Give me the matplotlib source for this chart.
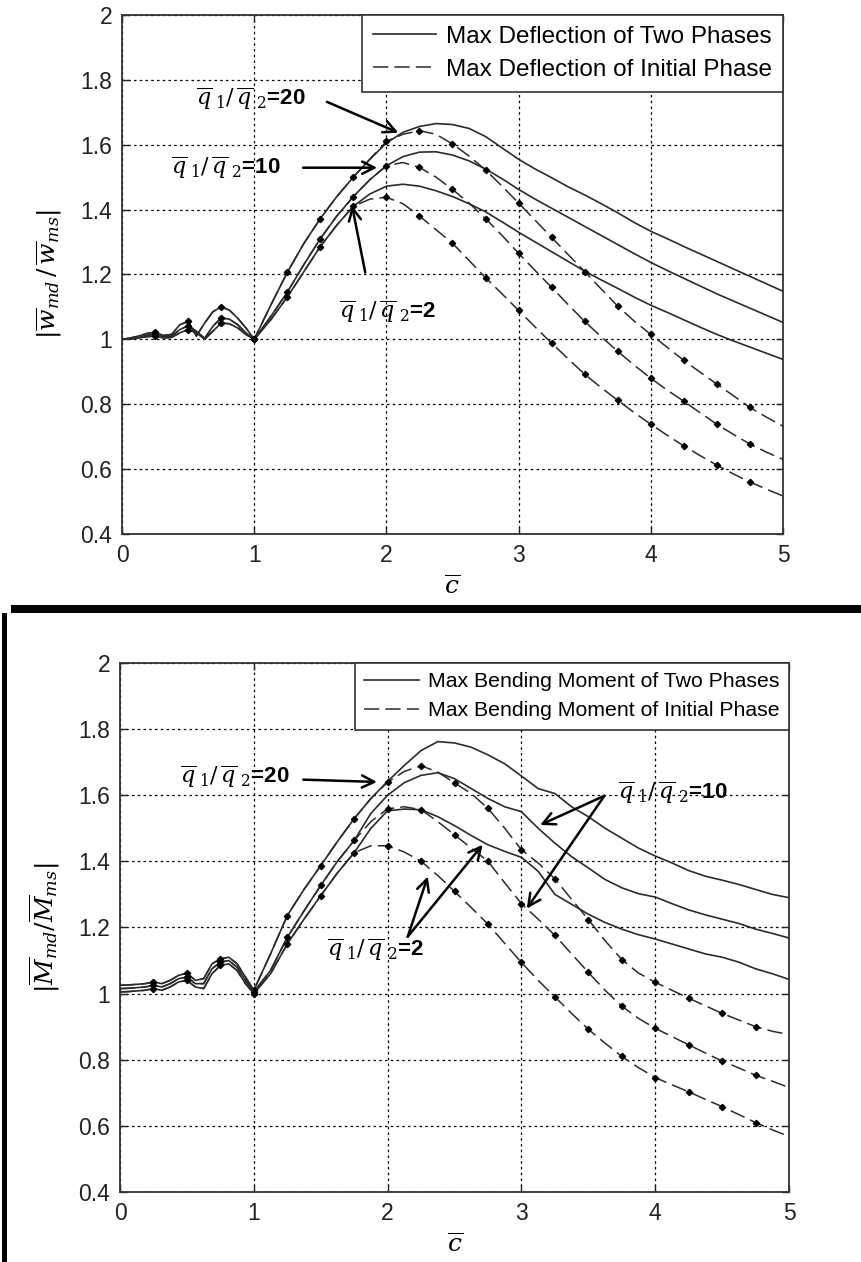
import numpy as np
import matplotlib
matplotlib.use("Agg")
import matplotlib.pyplot as plt
from matplotlib.patches import Rectangle

plt.rcParams["font.family"] = ["Liberation Sans", "DejaVu Sans"]
plt.rcParams["mathtext.fontset"] = "dejavuserif"

# c-bar grid: fine steps over the oscillating part, then 0.125 steps
C_FINE = np.arange(0.0, 1.0001, 0.0625)
C_COARSE = np.arange(1.125, 5.0001, 0.125)
C_BAR = np.concatenate([C_FINE, C_COARSE])

# ---- top panel: |w_md / w_ms| ----
W_OSC_20 = [1.0, 1.004, 1.01, 1.018, 1.022, 1.012, 1.015, 1.045, 1.055, 1.01, 1.05,
            1.085, 1.10, 1.09, 1.065, 1.035, 1.0]
W_OSC_10 = [1.0, 1.002, 1.006, 1.012, 1.016, 1.008, 1.01, 1.03, 1.042, 1.025, 1.003,
            1.04, 1.066, 1.062, 1.045, 1.02, 1.0]
W_OSC_2 = [1.0, 1.001, 1.004, 1.008, 1.01, 1.004, 1.006, 1.02, 1.03, 1.02, 1.0,
           1.025, 1.05, 1.048, 1.035, 1.015, 1.0]

W_TWO_20 = W_OSC_20 + [1.105, 1.206, 1.295, 1.372, 1.44, 1.50, 1.555, 1.605, 1.638, 1.656,
                       1.665, 1.662, 1.65, 1.625, 1.59, 1.555, 1.525, 1.498, 1.47, 1.445,
                       1.418, 1.39, 1.36, 1.333, 1.31, 1.286, 1.263, 1.24, 1.217, 1.194,
                       1.171, 1.148]
W_TWO_10 = W_OSC_10 + [1.07, 1.145, 1.23, 1.31, 1.38, 1.44, 1.492, 1.535, 1.563, 1.577,
                       1.578, 1.568, 1.55, 1.525, 1.495, 1.462, 1.432, 1.404, 1.376, 1.348,
                       1.32, 1.292, 1.264, 1.237, 1.212, 1.188, 1.164, 1.14, 1.118, 1.096,
                       1.074, 1.052]
W_TWO_2 = W_OSC_2 + [1.06, 1.13, 1.208, 1.286, 1.352, 1.41, 1.448, 1.472, 1.478, 1.472,
                     1.458, 1.44, 1.418, 1.393, 1.362, 1.33, 1.30, 1.27, 1.24, 1.21,
                     1.183, 1.157, 1.13, 1.105, 1.083, 1.06, 1.037, 1.015, 0.995, 0.976,
                     0.957, 0.938]

W_INIT_20 = W_OSC_20 + [1.105, 1.206, 1.295, 1.372, 1.44, 1.50, 1.555, 1.61, 1.632, 1.643,
                        1.632, 1.602, 1.565, 1.522, 1.472, 1.42, 1.367, 1.314, 1.261, 1.209,
                        1.155, 1.102, 1.056, 1.015, 0.975, 0.935, 0.898, 0.862, 0.826, 0.79,
                        0.76, 0.732]
W_INIT_10 = W_OSC_10 + [1.07, 1.145, 1.23, 1.31, 1.38, 1.44, 1.492, 1.535, 1.545, 1.53,
                        1.50, 1.462, 1.42, 1.372, 1.32, 1.265, 1.212, 1.16, 1.107, 1.055,
                        1.008, 0.963, 0.92, 0.88, 0.843, 0.809, 0.773, 0.738, 0.707, 0.677,
                        0.652, 0.63]
W_INIT_2 = W_OSC_2 + [1.06, 1.13, 1.208, 1.286, 1.352, 1.41, 1.432, 1.438, 1.418, 1.38,
                      1.338, 1.296, 1.243, 1.19, 1.14, 1.089, 1.038, 0.988, 0.94, 0.892,
                      0.851, 0.812, 0.774, 0.738, 0.704, 0.671, 0.641, 0.612, 0.585, 0.56,
                      0.538, 0.517]

# ---- bottom panel: |M_md / M_ms| ----
M_OSC_20 = [1.025, 1.026, 1.028, 1.03, 1.035, 1.03, 1.04, 1.055, 1.062, 1.04, 1.045,
            1.09, 1.105, 1.11, 1.09, 1.05, 1.01]
M_OSC_10 = [1.015, 1.016, 1.018, 1.02, 1.025, 1.02, 1.03, 1.045, 1.05, 1.03, 1.03,
            1.075, 1.095, 1.10, 1.08, 1.04, 1.005]
M_OSC_2 = [1.005, 1.006, 1.008, 1.01, 1.015, 1.01, 1.02, 1.035, 1.04, 1.02, 1.015,
           1.06, 1.085, 1.09, 1.07, 1.03, 1.0]

M_TWO_20 = M_OSC_20 + [1.12, 1.236, 1.315, 1.387, 1.46, 1.529, 1.59, 1.642, 1.69, 1.735,
                       1.762, 1.758, 1.745, 1.722, 1.695, 1.658, 1.62, 1.605, 1.565, 1.535,
                       1.50, 1.47, 1.44, 1.416, 1.395, 1.372, 1.355, 1.343, 1.33, 1.315,
                       1.30, 1.29]
M_TWO_10 = M_OSC_10 + [1.07, 1.17, 1.25, 1.327, 1.40, 1.463, 1.545, 1.60, 1.638, 1.66,
                       1.668, 1.65, 1.62, 1.59, 1.565, 1.55, 1.50, 1.455, 1.414, 1.38,
                       1.345, 1.32, 1.302, 1.292, 1.272, 1.253, 1.238, 1.225, 1.212, 1.195,
                       1.182, 1.168]
M_TWO_2 = M_OSC_2 + [1.06, 1.15, 1.225, 1.296, 1.365, 1.426, 1.50, 1.553, 1.558, 1.556,
                     1.535, 1.508, 1.478, 1.45, 1.43, 1.412, 1.37, 1.30, 1.27, 1.24,
                     1.215, 1.195, 1.178, 1.165, 1.15, 1.135, 1.12, 1.11, 1.095, 1.075,
                     1.06, 1.043]

M_INIT_20 = M_OSC_20 + [1.12, 1.236, 1.315, 1.387, 1.46, 1.529, 1.59, 1.639, 1.672, 1.689,
                        1.67, 1.637, 1.605, 1.56, 1.50, 1.435, 1.395, 1.347, 1.285, 1.224,
                        1.16, 1.103, 1.062, 1.034, 1.01, 0.986, 0.963, 0.94, 0.92, 0.90,
                        0.886, 0.876]
M_INIT_10 = M_OSC_10 + [1.07, 1.17, 1.25, 1.327, 1.40, 1.463, 1.52, 1.559, 1.565, 1.556,
                        1.52, 1.48, 1.44, 1.40, 1.335, 1.272, 1.225, 1.176, 1.12, 1.064,
                        1.01, 0.962, 0.925, 0.895, 0.87, 0.845, 0.82, 0.796, 0.775, 0.753,
                        0.735, 0.716]
M_INIT_2 = M_OSC_2 + [1.06, 1.15, 1.225, 1.296, 1.365, 1.426, 1.447, 1.447, 1.428, 1.40,
                      1.357, 1.309, 1.26, 1.21, 1.152, 1.094, 1.04, 0.99, 0.94, 0.892,
                      0.85, 0.81, 0.776, 0.746, 0.724, 0.703, 0.68, 0.658, 0.634, 0.61,
                      0.588, 0.568]

RATIO_LABEL = r"$\overline{q}_{\ 1}/\,\overline{q}_{\ 2}$=%s"

LINE_COLOR = "#2b2b2b"
GRID_DASH = (0, (2.0, 2.6))


def style_axes(ax):
    ax.set_xlim(0, 5)
    ax.set_ylim(0.4, 2.0)
    ax.set_xticks([0, 1, 2, 3, 4, 5])
    ax.set_yticks([0.4, 0.6, 0.8, 1.0, 1.2, 1.4, 1.6, 1.8, 2.0])
    ax.set_yticklabels(["0.4", "0.6", "0.8", "1", "1.2", "1.4", "1.6", "1.8", "2"])
    ax.grid(True, color="k", linestyle=GRID_DASH, lw=0.9)
    ax.tick_params(direction="in", length=5, width=1.0, top=True, right=True,
                   labelsize=16.5, pad=7, colors="#222222")
    for sp in ax.spines.values():
        sp.set_color("#333333")
        sp.set_linewidth(1.3)


def draw_panel(ax, two_series, init_series, legend_two, legend_init, legend_size):
    marks = [i for i, c in enumerate(C_BAR) if 0 < c < 5 and abs(c * 4 - round(c * 4)) < 1e-9]
    for k, y in enumerate(two_series):
        ax.plot(C_BAR, y, color=LINE_COLOR, lw=1.2, zorder=3,
                label=legend_two if k == 0 else None)
    for k, y in enumerate(init_series):
        ax.plot(C_BAR, y, color=LINE_COLOR, lw=1.1, linestyle=(0, (10, 4)), zorder=4,
                marker="D", ms=3.2, markevery=marks, mfc="k", mec="k",
                label=legend_init if k == 0 else None)
    style_axes(ax)
    leg = ax.legend(loc="upper right", bbox_to_anchor=(1.0, 1.0), fontsize=legend_size,
                    frameon=True, fancybox=False, framealpha=1, edgecolor="#333333",
                    borderaxespad=0, handlelength=2.6, handletextpad=0.4,
                    borderpad=0.45, labelspacing=0.45)
    leg.get_frame().set_linewidth(1.2)
    for h in leg.legend_handles:
        h.set_marker("")
    ax.set_xlabel(r"$\overline{c}$", fontsize=18, labelpad=6)


def annotate(ax, ratio, text_xy, targets, tail):
    ax.text(text_xy[0], text_xy[1], RATIO_LABEL % ratio, fontsize=16, fontweight="bold",
            va="center", ha="left", zorder=6)
    for tx, ty in targets:
        ax.annotate("", xy=(tx, ty), xytext=tail,
                    arrowprops=dict(arrowstyle="->", lw=1.8, color="k", mutation_scale=22,
                                    shrinkA=0, shrinkB=0), zorder=6)


fig = plt.figure(figsize=(8.61, 12.62), dpi=100)
ax_w = fig.add_axes([0.1417, 0.5769, 0.7677, 0.4113])
ax_m = fig.add_axes([0.1394, 0.0555, 0.7770, 0.4192])

draw_panel(ax_w, [W_TWO_20, W_TWO_10, W_TWO_2], [W_INIT_20, W_INIT_10, W_INIT_2],
           "Max Deflection of Two Phases", "Max Deflection of Initial Phase", 17.5)
ax_w.set_ylabel(r"$|\overline{w}_{md}\,/\,\overline{w}_{ms}|$", fontsize=18, labelpad=12)
annotate(ax_w, "20", (0.56, 1.74), [(2.09, 1.637)], (1.55, 1.732))
annotate(ax_w, "10", (0.37, 1.529), [(1.93, 1.529)], (1.37, 1.529))
annotate(ax_w, "2", (1.64, 1.086), [(1.74, 1.412)], (1.84, 1.206))

draw_panel(ax_m, [M_TWO_20, M_TWO_10, M_TWO_2], [M_INIT_20, M_INIT_10, M_INIT_2],
           "Max Bending Moment of Two Phases", "Max Bending Moment of Initial Phase", 15.3)
ax_m.set_ylabel(r"$|\overline{M}_{md}/\overline{M}_{ms}|$", fontsize=18, labelpad=12)
annotate(ax_m, "20", (0.45, 1.656), [(1.92, 1.64)], (1.37, 1.647))
annotate(ax_m, "10", (3.72, 1.607), [(3.14, 1.51), (3.04, 1.257)], (3.62, 1.598))
annotate(ax_m, "2", (1.55, 1.133), [(2.30, 1.354), (2.71, 1.45)], (2.15, 1.172))

# separator between the two figures
W, H = 861.0, 1262.0
fig.add_artist(Rectangle((11 / W, 1 - 613 / H), 1 - 11 / W, 8 / H,
                         transform=fig.transFigure, color="k", lw=0))
fig.add_artist(Rectangle((2 / W, 0), 5 / W, 1 - 613 / H,
                         transform=fig.transFigure, color="k", lw=0))

fig.savefig("out.png", dpi=100)
